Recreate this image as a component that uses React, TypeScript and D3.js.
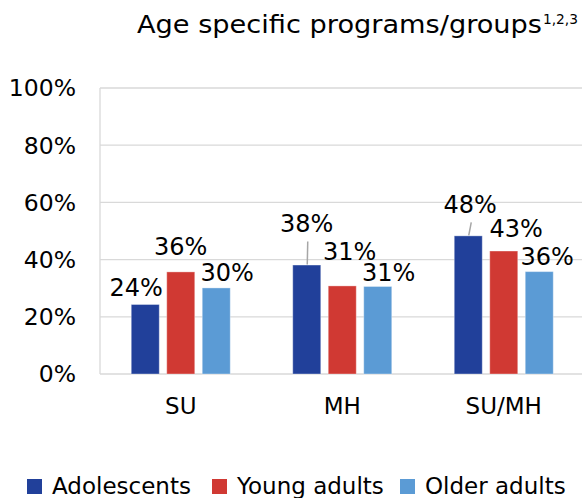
import React from "react";
import * as d3 from "d3";

const categories = ["SU", "MH", "SU/MH"];
const seriesNames = ["Adolescents", "Young adults", "Older adults"];
const adolescents = [24.3, 38.1, 48.3];
const youngAdults = [35.7, 30.8, 43.0];
const olderAdults = [30.1, 30.6, 35.8];
const yTicks = [0, 20, 40, 60, 80, 100];
const colors = ["#21409A", "#D03933", "#5B9BD5"];

// label placement offsets (dx from bar center, dy of baseline from bar top), per series per category
const labelDx = [
  [-9, 0, 2],
  [0, 7.5, 12.5],
  [11, 11, 8],
];
const labelDy = [
  [-8.6, -33, -23],
  [-17, -26, -14.3],
  [-6.5, -5.3, -6.7],
];
const leader = [
  [false, true, true],
  [false, false, false],
  [false, false, false],
];

const W = 582;
const H = 498;
const FONT = "Verdana, 'DejaVu Sans', sans-serif";

export default function App() {
  const series = [adolescents, youngAdults, olderAdults];
  const left = 100;
  const right = 584.5;
  const top = 88;
  const bottom = 374;

  const y = d3.scaleLinear().domain([0, 100]).range([bottom, top]);
  const x0 = d3.scaleBand<string>().domain(categories).range([left, right]).paddingInner(0).paddingOuter(0);
  const bw = x0.bandwidth();
  const x1 = d3
    .scaleBand<string>()
    .domain(seriesNames)
    .range([bw / 2 - 49.5, bw / 2 + 49.5])
    .paddingInner(0.211)
    .paddingOuter(0);

  const legendX = [27, 212, 400];

  return (
    <svg width={W} height={H} style={{ position: "absolute", left: 0, top: 0, background: "#fff" }} fontFamily={FONT}>
      {/* title */}
      <text x={137} y={33} fontSize={24} fill="#000" textLength={405} lengthAdjust="spacingAndGlyphs">
        Age specific programs/groups
      </text>
      <text x={543} y={24} fontSize={14} fill="#000" textLength={35} lengthAdjust="spacingAndGlyphs">
        1,2,3
      </text>

      {/* gridlines */}
      {yTicks.map((t) => (
        <line key={"g" + t} x1={left} x2={582} y1={y(t)} y2={y(t)} stroke="#D9D9D9" strokeWidth={1.3} />
      ))}
      <line x1={left} x2={left} y1={top} y2={bottom} stroke="#D9D9D9" strokeWidth={1.3} />

      {/* y tick labels */}
      {yTicks.map((t) => (
        <text key={"t" + t} x={76} y={y(t) + 8.4} textAnchor="end" fontSize={23.5} fill="#000">
          {t + "%"}
        </text>
      ))}

      {/* bars */}
      {categories.map((c, ci) => (
        <g key={c} transform={`translate(${x0(c)},0)`}>
          {series.map((s, si) => {
            const bx = x1(seriesNames[si])!;
            const v = s[ci];
            return (
              <rect
                key={si}
                x={bx}
                y={y(v)}
                width={x1.bandwidth()}
                height={y(0) - y(v)}
                fill={colors[si]}
                stroke="rgba(255,255,255,0.35)"
                strokeWidth={1}
              />
            );
          })}
        </g>
      ))}

      {/* data labels */}
      {categories.map((c, ci) =>
        series.map((s, si) => {
          const v = s[ci];
          const cx = x0(c)! + x1(seriesNames[si])! + x1.bandwidth() / 2;
          const lx = cx + labelDx[si][ci];
          const ly = y(v) + labelDy[si][ci];
          return (
            <g key={c + si}>
              {leader[si][ci] && (
                <line x1={lx + 1} y1={ly + 9.5} x2={cx + 0.5} y2={y(v) - 0.5} stroke="#A6A6A6" strokeWidth={1.5} />
              )}
              <text x={lx} y={ly} textAnchor="middle" fontSize={24} fill="#000">
                {Math.round(v) + "%"}
              </text>
            </g>
          );
        })
      )}

      {/* x labels */}
      {categories.map((c) => (
        <text key={"x" + c} x={x0(c)! + bw / 2} y={414} textAnchor="middle" fontSize={23} fill="#000">
          {c}
        </text>
      ))}

      {/* legend */}
      {seriesNames.map((n, i) => (
        <g key={n}>
          <rect x={legendX[i]} y={479} width={15} height={15} fill={colors[i]} />
          <text x={legendX[i] + 25} y={494} fontSize={23} fill="#000">
            {n}
          </text>
        </g>
      ))}
    </svg>
  );
}
